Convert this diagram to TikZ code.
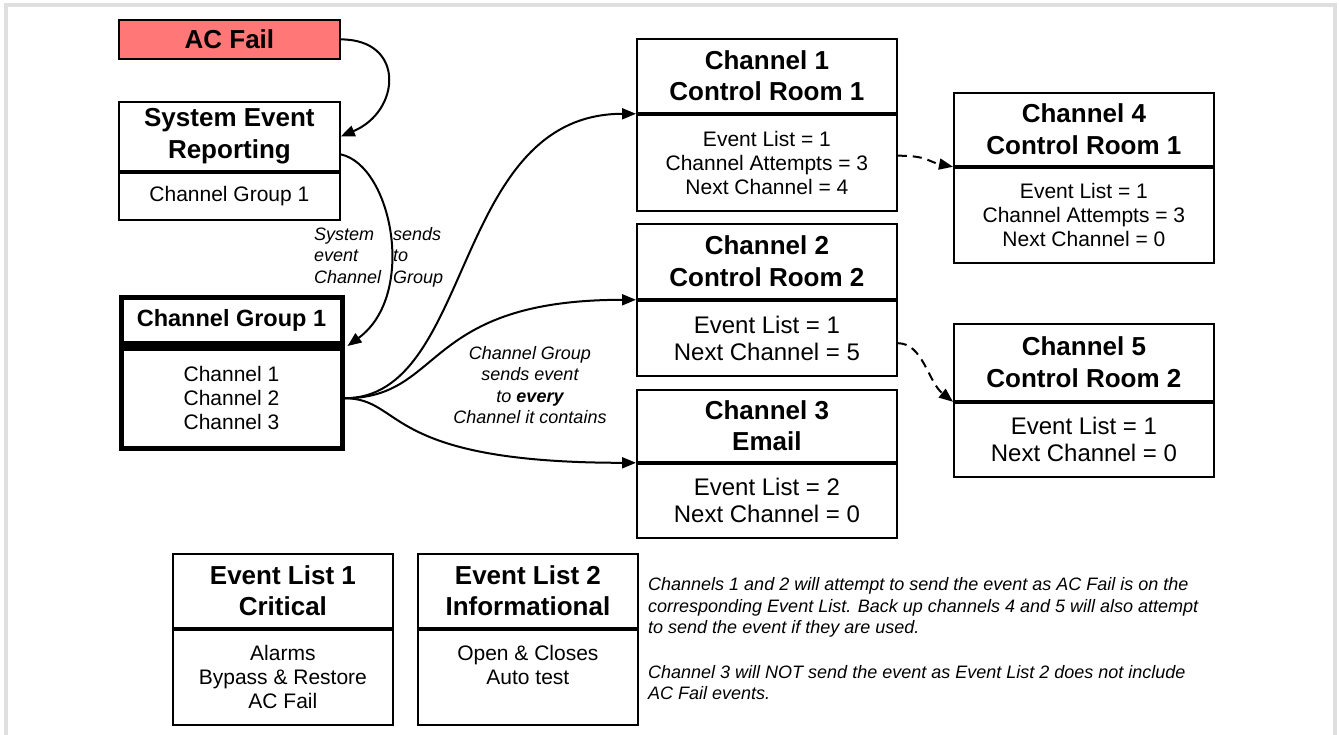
\documentclass[tikz,border=0pt]{standalone}
\usepackage{fontspec}
\setmainfont{Liberation Sans}
\usetikzlibrary{arrows.meta}

\definecolor{alarmred}{RGB}{255,119,119}
\newcommand{\titlefont}{\fontsize{26}{31.5}\selectfont\bfseries}
\newcommand{\bodyfont}{\fontsize{21}{24}\selectfont}
\newcommand{\largebodyfont}{\fontsize{24}{27}\selectfont}
\newcommand{\remarkfont}{\fontsize{18}{21.5}\selectfont\itshape}

\tikzset{
    titlebox/.style={draw, line width=1.8pt, align=center, inner sep=0pt, font=\titlefont, anchor=north west},
    bodybox/.style={draw, line width=1.8pt, align=center, inner sep=0pt, font=\bodyfont, anchor=north},
    flow/.style={line width=2pt, -{Triangle[length=14pt,width=11pt]}},
    backup/.style={flow, dash pattern=on 9pt off 6pt},
    remark/.style={font=\remarkfont, inner sep=0pt}
}

\begin{document}
\begin{tikzpicture}[x=1pt, y=-1pt]
    \useasboundingbox (0,0) rectangle (1339,735);

    % Frame
    \draw[gray!25, line width=4pt] (6,735) -- (6,5) -- (1335,5) -- (1335,735);

    % Event source
    \node[titlebox, fill=alarmred, minimum width=221pt, minimum height=39pt] (acfail) at (118,19) {AC Fail};
    \node[titlebox, minimum width=221pt, minimum height=69pt] (ser) at (118,101) {System Event\\Reporting};
    \node[bodybox, minimum width=221pt, minimum height=47pt] (serb) at (ser.south) {Channel Group 1};

    % Channel group
    \node[titlebox, line width=5pt, font=\fontsize{23.5}{28}\selectfont\bfseries, minimum width=221pt, minimum height=45.5pt] (cg) at (118.5,295.5) {Channel Group 1};
    \node[bodybox, line width=5pt, minimum width=221pt, minimum height=99.5pt] (cgb) at (cg.south) {Channel 1\\Channel 2\\Channel 3};

    % Channels
    \node[titlebox, minimum width=260pt, minimum height=74pt] (ch1) at (636,38) {Channel 1\\Control Room 1};
    \node[bodybox, minimum width=260pt, minimum height=96pt] (ch1b) at (ch1.south) {Event List = 1\\Channel Attempts = 3\\Next Channel = 4};
    \node[titlebox, minimum width=260pt, minimum height=75pt] (ch2) at (636,223) {Channel 2\\Control Room 2};
    \node[bodybox, font=\largebodyfont, minimum width=260pt, minimum height=75pt] (ch2b) at (ch2.south) {Event List = 1\\Next Channel = 5};
    \node[titlebox, minimum width=260pt, minimum height=72pt] (ch3) at (636,389) {Channel 3\\Email};
    \node[bodybox, font=\largebodyfont, minimum width=260pt, minimum height=74pt] (ch3b) at (ch3.south) {Event List = 2\\Next Channel = 0};
    \node[titlebox, minimum width=260pt, minimum height=73pt] (ch4) at (953,92) {Channel 4\\Control Room 1};
    \node[bodybox, minimum width=260pt, minimum height=95pt] (ch4b) at (ch4.south) {Event List = 1\\Channel Attempts = 3\\Next Channel = 0};
    \node[titlebox, minimum width=260pt, minimum height=77pt] (ch5) at (953,323) {Channel 5\\Control Room 2};
    \node[bodybox, font=\largebodyfont, minimum width=260pt, minimum height=74pt] (ch5b) at (ch5.south) {Event List = 1\\Next Channel = 0};

    % Event lists
    \node[titlebox, minimum width=220pt, minimum height=74pt] (el1) at (172,553) {Event List 1\\Critical};
    \node[bodybox, minimum width=220pt, minimum height=95pt] (el1b) at (el1.south) {Alarms\\Bypass \& Restore\\AC Fail};
    \node[titlebox, minimum width=220pt, minimum height=74pt] (el2) at (417,553) {Event List 2\\Informational};
    \node[bodybox, minimum width=220pt, minimum height=95pt, text depth=24pt] (el2b) at (el2.south) {Open \& Closes\\Auto test};

    % Connectors
    \draw[flow] (acfail.east) .. controls +(65,0) and +(60,-25) .. (ser.east);
    \draw[flow] ([yshift=-18pt]ser.east) .. controls +(51,11) and +(70,-51) .. ([xshift=3pt]cg.south east);
    \draw[flow] (cgb.east) .. controls +(130,0) and +(-185,0) .. (ch1.south west);
    \draw[flow] (cgb.east) .. controls +(100,0) and +(-215,0) .. (ch2.south west);
    \draw[flow] (cgb.east) .. controls +(60,0) and +(-255,0) .. (ch3.south west);
    \draw[backup] ([yshift=7pt]ch1b.east) .. controls +(30,0) and +(-25,-5) .. (ch4.south west);
    \draw[backup] ([yshift=-5pt]ch2b.east) .. controls +(25,0) and +(-25,-20) .. (ch5.south west);

    % Labels (base = last line)
    \node[remark, align=left, anchor=base west] (sysl) at (314,283.5) {System\\event\\Channel};
    \node[remark, align=left, anchor=base west] (sysr) at (393,283.5) {sends\\to\\Group};
    \node[remark, align=center, anchor=base] (cglabel) at (530,423.5) {Channel Group\\sends event\\to \textbf{every}\\Channel it contains};
    \node[remark, align=left, anchor=base west] (note) at (648,699.5) {Channels 1 and 2 will attempt to send the event as AC Fail is on the\\corresponding Event List. Back up channels 4 and 5 will also attempt\\to send the event if they are used.\\[23pt]Channel 3 will NOT send the event as Event List 2 does not include\\AC Fail events.};
\end{tikzpicture}
\end{document}
